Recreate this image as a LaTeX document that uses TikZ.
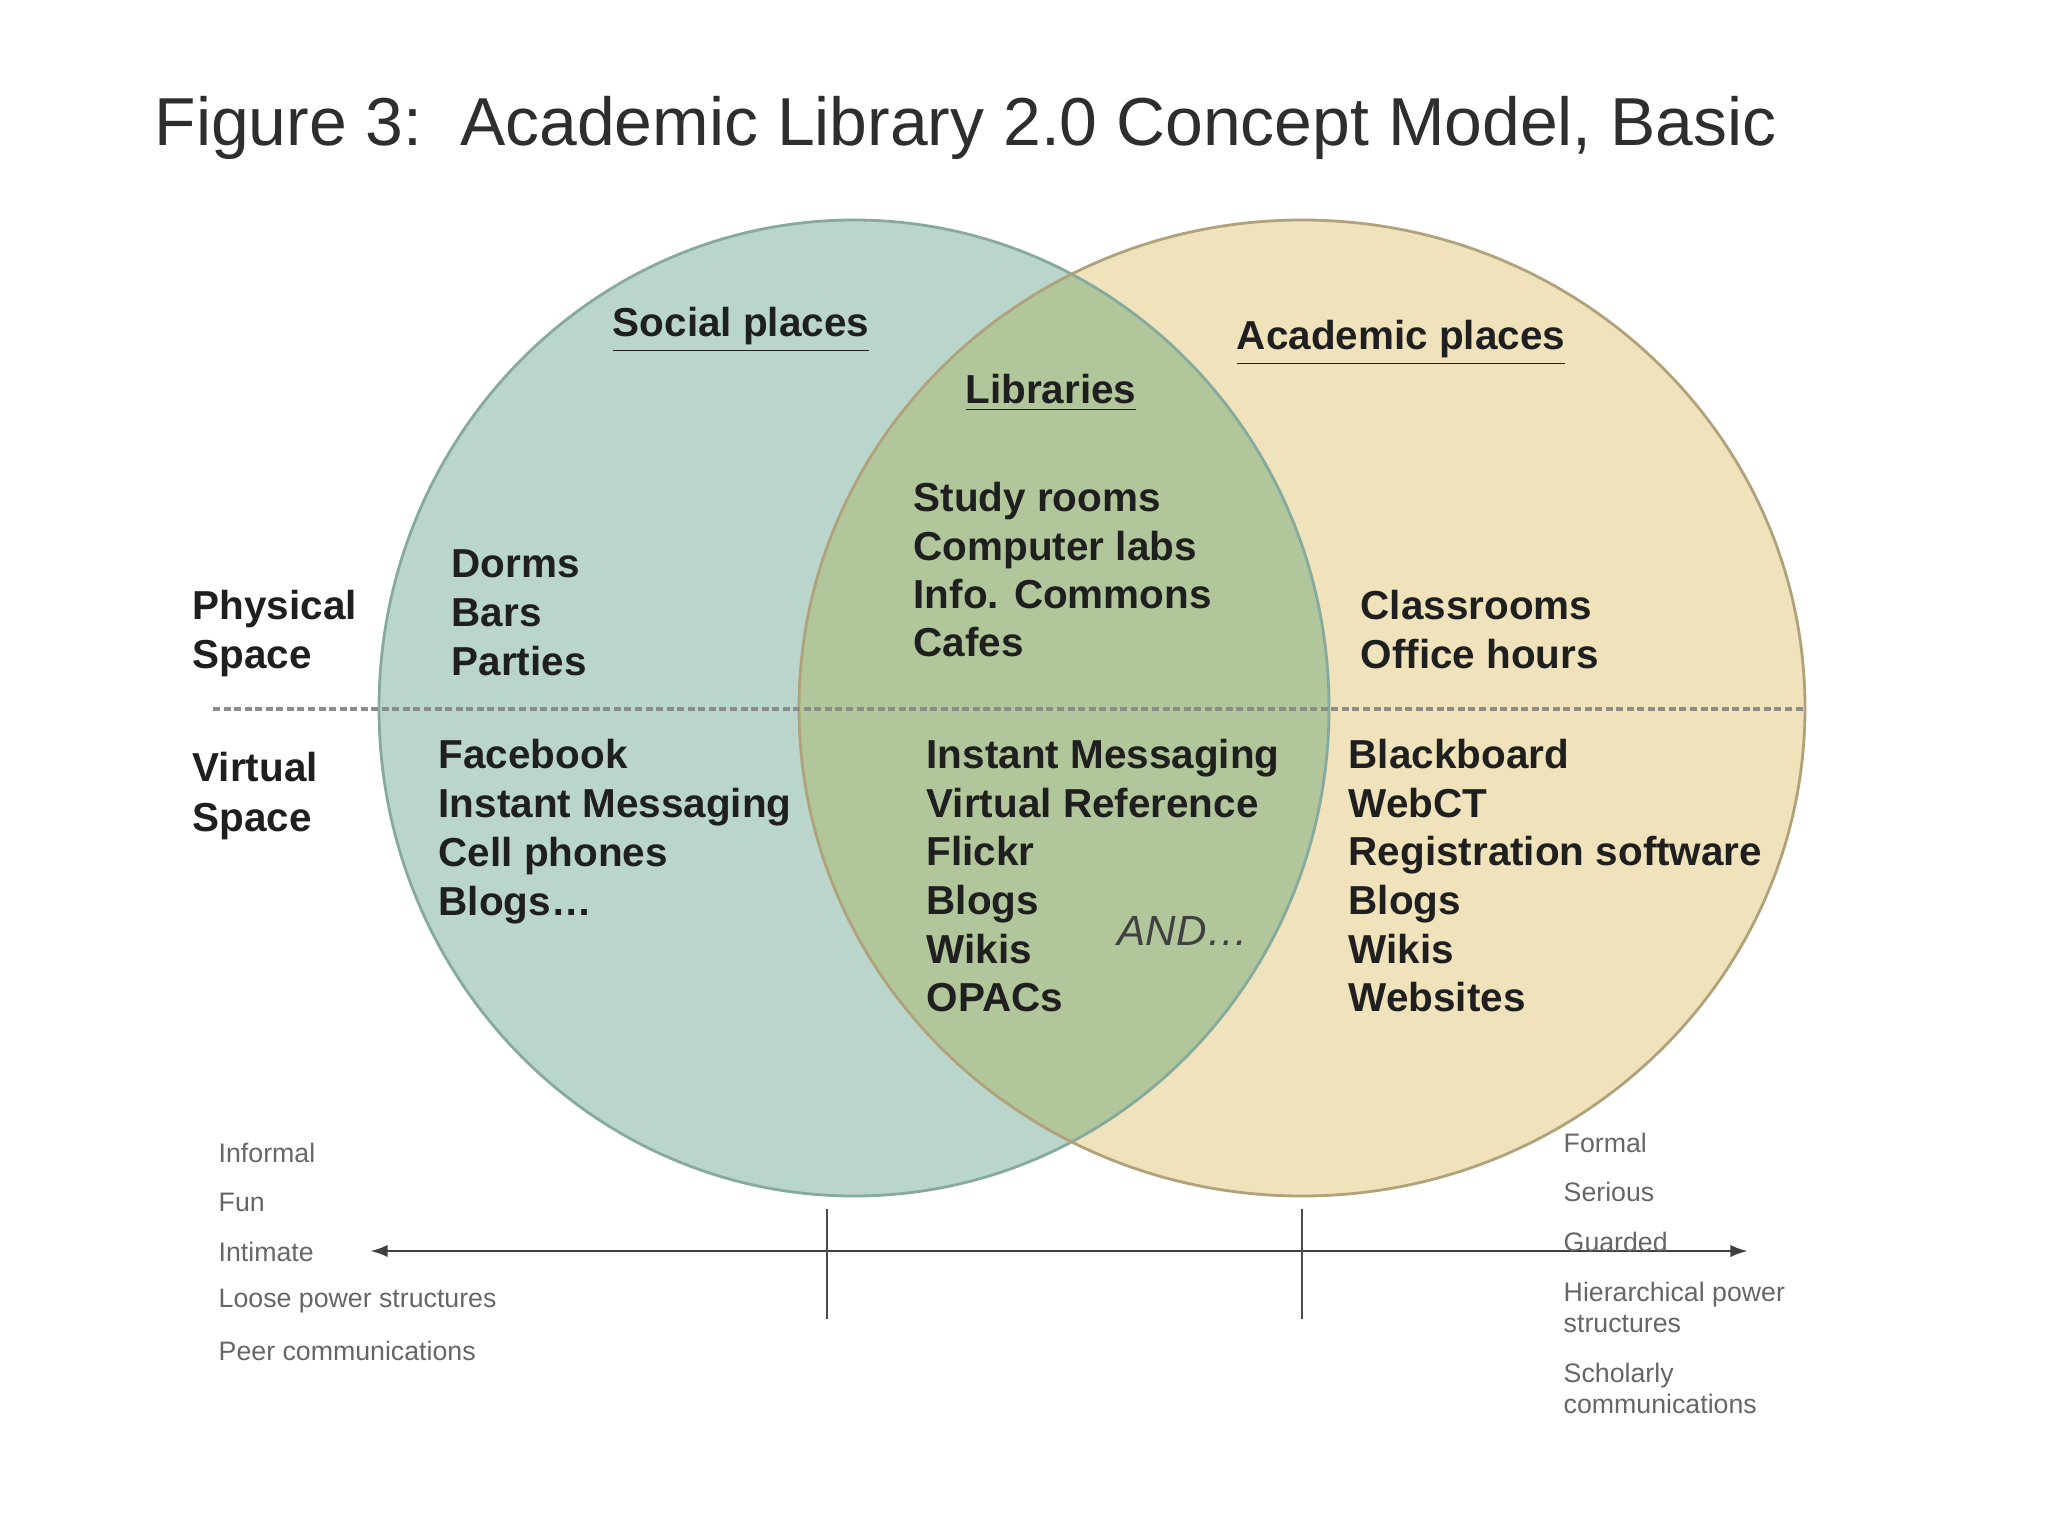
\documentclass[tikz,border=0pt]{standalone}
\usepackage{fontspec}
\setmainfont{Liberation Sans}
\usetikzlibrary{arrows.meta,positioning}
\definecolor{socialteal}{HTML}{BAD6CC}
\definecolor{academicsand}{HTML}{F0E2BA}
\definecolor{libraryolive}{HTML}{B1C69A}
\definecolor{tealedge}{HTML}{86AB9E}
\definecolor{sandedge}{HTML}{B0A27A}

\begin{document}
\begin{tikzpicture}[x=0.01cm,y=-0.01cm,>=Latex,
    item/.style={font=\fontsize{11.5}{13.9}\selectfont\bfseries,text=black!88,anchor=west,inner sep=0pt,text height=0.72em,text depth=0pt},
    heading/.style={font=\fontsize{11.5}{13.9}\selectfont\bfseries,text=black!88,inner sep=0pt},
    trait/.style={font=\fontsize{7.6}{8.8}\selectfont,text=black!60,anchor=west,align=left,inner sep=0pt}]
  \useasboundingbox (0,0) rectangle (2048,1536);
  \fill[white] (0,0) rectangle (2048,1536);
  % circles
  \fill[socialteal] (854,708) ellipse [x radius=475,y radius=488];
  \fill[academicsand] (1302,708) ellipse [x radius=503,y radius=488];
  \begin{scope}
    \clip (1302,708) ellipse [x radius=503,y radius=488];
    \fill[libraryolive] (854,708) ellipse [x radius=475,y radius=488];
  \end{scope}
  \draw[tealedge,line width=0.8pt] (854,708) ellipse [x radius=475,y radius=488];
  \draw[sandedge,line width=0.8pt] (1302,708) ellipse [x radius=503,y radius=488];

  \node[font=\fontsize{19.3}{23}\selectfont,text=black!82,anchor=west,inner sep=0pt,text height=0.72em,text depth=0pt] (title) at (154,133) {Figure 3:\ \ Academic Library 2.0 Concept Model, Basic};

  \node[heading] (social) at (741,330) {\underline{Social places}};
  \node[heading] (libraries) at (1051,393) {\underline{Libraries}};
  \node[heading] (academic) at (1401,343) {\underline{Academic places}};

  % physical / virtual divide
  \coordinate (divleft) at (213,709);
  \coordinate (divright) at (1805,709);
  \draw[black!45,line width=0.9pt,dash pattern=on 2pt off 1pt] (divleft) -- (divright);

  \foreach \txt [count=\i from 0] in {Physical,Space}
    \node[item] (phys\i) at (192,{607+49*\i}) {\txt};
  \foreach \txt [count=\i from 0] in {Virtual,Space}
    \node[item] (virt\i) at (192,{769+50*\i}) {\txt};

  \foreach \txt [count=\i from 0] in {Dorms,Bars,Parties}
    \node[item] (socphys\i) at (451,{565+49*\i}) {\txt};
  \foreach \txt [count=\i from 0] in {Study rooms,Computer labs,Info. Commons,Cafes}
    \node[item] (libphys\i) at (913,{499+48.4*\i}) {\txt};
  \foreach \txt [count=\i from 0] in {Classrooms,Office hours}
    \node[item] (acaphys\i) at (1360,{607+49*\i}) {\txt};

  \foreach \txt [count=\i from 0] in {Facebook,Instant Messaging,Cell phones,{Blogs\ldots}}
    \node[item] (socvirt\i) at (438,{756+49*\i}) {\txt};
  \foreach \txt [count=\i from 0] in {Instant Messaging,Virtual Reference,Flickr,Blogs,Wikis,OPACs}
    \node[item] (libvirt\i) at (926,{756+48.6*\i}) {\txt};
  \foreach \txt [count=\i from 0] in {Blackboard,WebCT,Registration software,Blogs,Wikis,Websites}
    \node[item] (acavirt\i) at (1348,{756+48.6*\i}) {\txt};
  \node[font=\fontsize{12}{14}\selectfont\itshape,text=black!75,anchor=west,inner sep=0pt,text height=0.72em,text depth=0pt] (andmore) at (1117,933) {AND\ldots};

  % informal -- formal scale
  \coordinate (informal) at (370,1251);
  \coordinate (formal) at (1748,1251);
  \draw[black!75,line width=0.8pt,arrows={Latex[length=5pt,width=3.5pt]-Latex[length=5pt,width=3.5pt]}] (informal) -- (formal);
  \coordinate (tickA) at (827,1209);
  \coordinate (tickB) at (1302,1209);
  \draw[black!70,line width=0.7pt] (tickA) -- ++(0,110);
  \draw[black!70,line width=0.7pt] (tickB) -- ++(0,110);

  \foreach \txt [count=\i from 0] in {Informal,Fun,Intimate,Loose power structures,Peer communications}
    \node[trait] (soctrait\i) at (218,{1153+49.5*\i}) {\txt};
  \node[trait] (formaltrait) at (1563,1143) {Formal};
  \node[trait] (serious) at (1563,1192) {Serious};
  \node[trait] (guarded) at (1563,1242) {Guarded};
  \node[trait] (hierarchy) at (1563,1307) {Hierarchical power\\structures};
  \node[trait] (scholarly) at (1563,1388) {Scholarly\\communications};
\end{tikzpicture}
\end{document}
